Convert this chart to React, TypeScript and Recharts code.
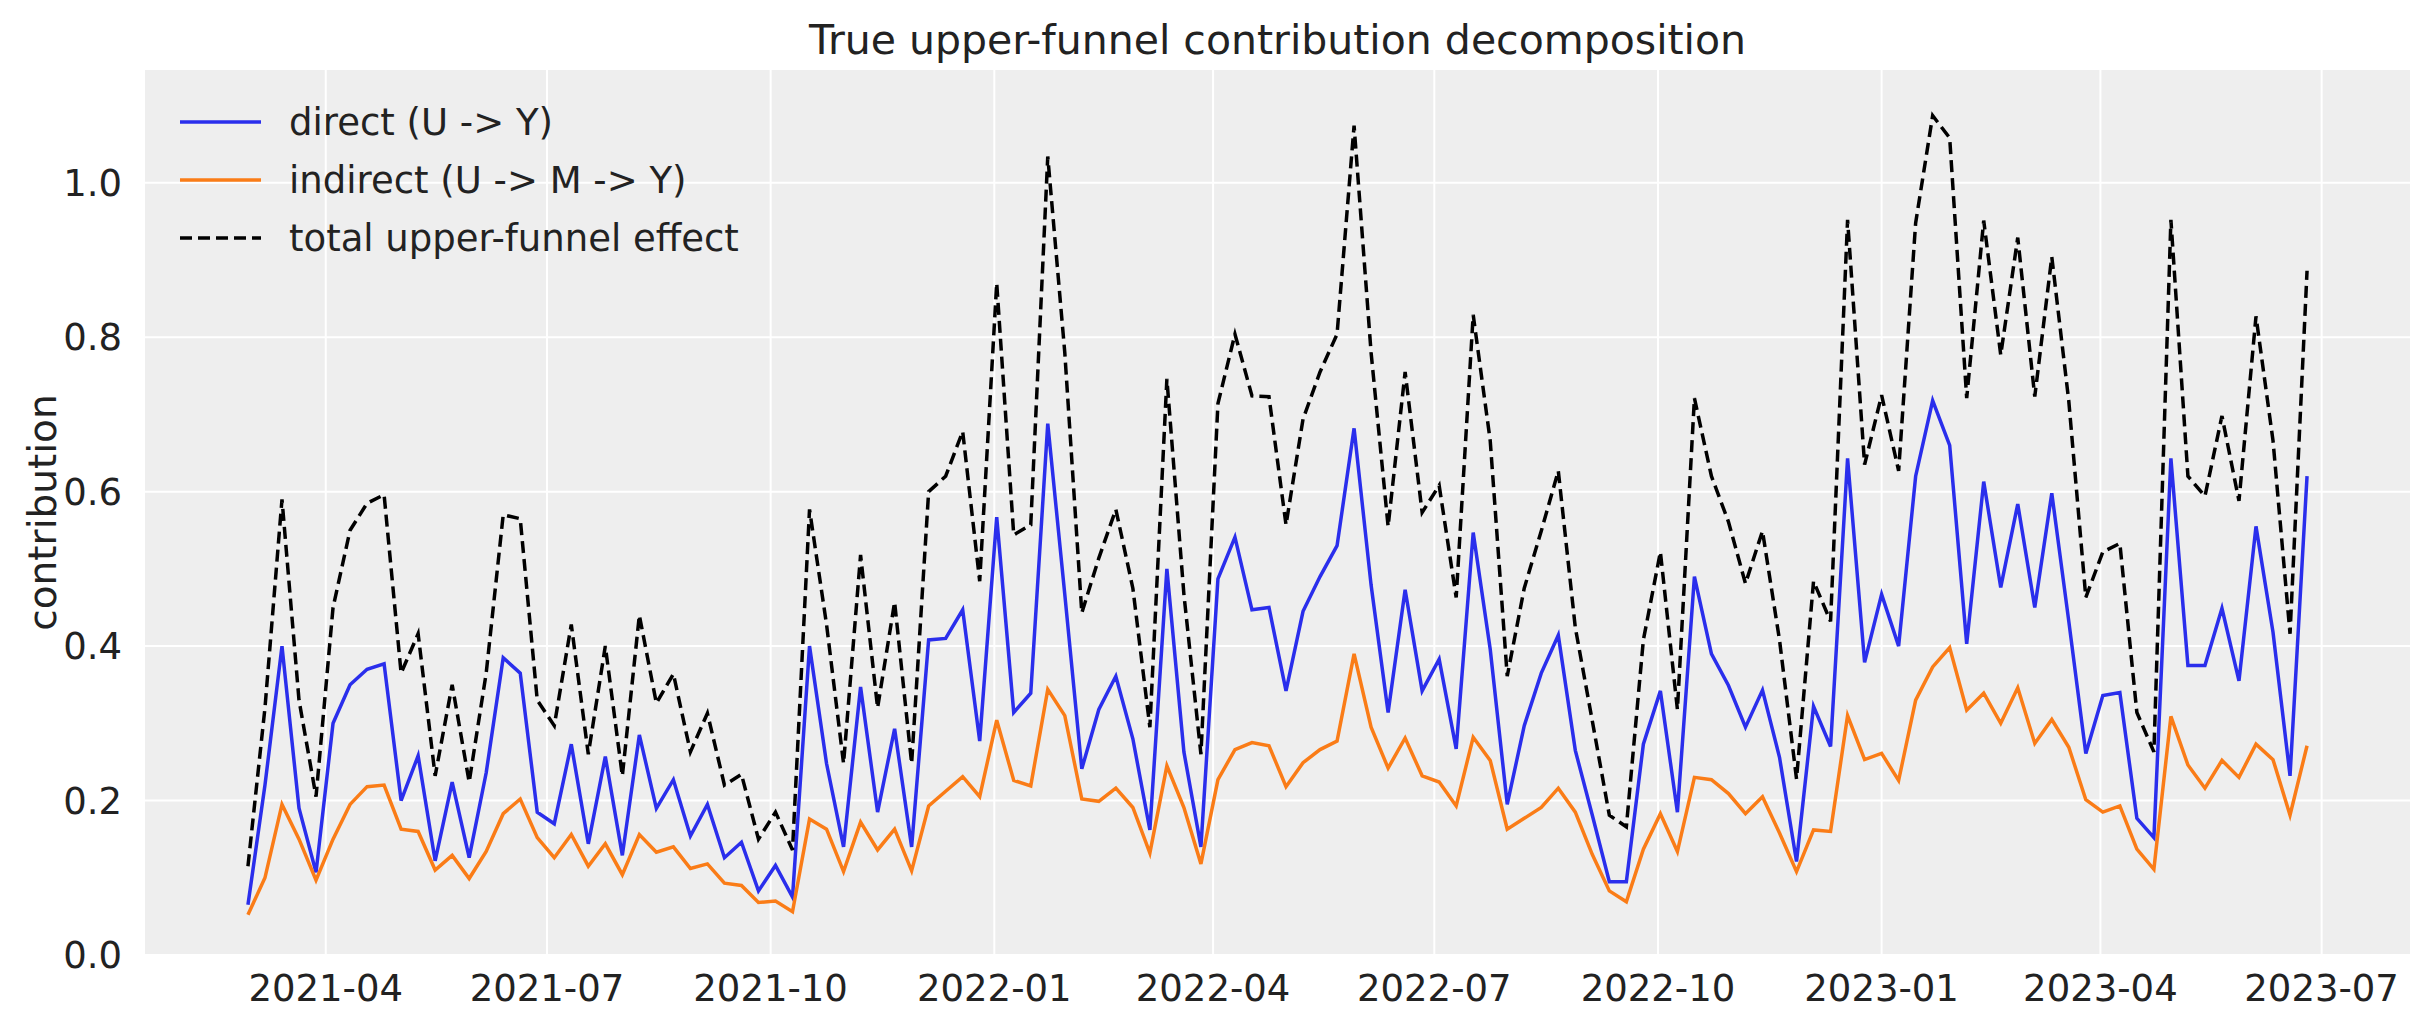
import React from 'react';
import { LineChart, Line, XAxis, YAxis, CartesianGrid } from 'recharts';

const START = Date.UTC(2021, 1, 28);
const WEEK = 7 * 86400000;

const directValues = [
  0.065, 0.22, 0.40, 0.19, 0.107, 0.30, 0.35, 0.37, 0.377, 0.20,
  0.258, 0.122, 0.224, 0.126, 0.236, 0.385, 0.365, 0.185, 0.17, 0.273,
  0.144, 0.257, 0.129, 0.285, 0.19, 0.227, 0.154, 0.195, 0.126, 0.146,
  0.083, 0.116, 0.075, 0.40, 0.248, 0.14, 0.347, 0.185, 0.293, 0.14,
  0.408, 0.41, 0.447, 0.277, 0.567, 0.314, 0.339, 0.688, 0.467, 0.241,
  0.318, 0.361, 0.28, 0.162, 0.50, 0.263, 0.14, 0.487, 0.541, 0.447,
  0.45, 0.342, 0.445, 0.49, 0.53, 0.682, 0.479, 0.314, 0.473, 0.342,
  0.383, 0.267, 0.547, 0.396, 0.195, 0.297, 0.365, 0.414, 0.265, 0.181,
  0.095, 0.095, 0.273, 0.342, 0.185, 0.49, 0.39, 0.349, 0.295, 0.343,
  0.256, 0.121, 0.322, 0.27, 0.643, 0.379, 0.467, 0.40, 0.62, 0.718,
  0.66, 0.403, 0.613, 0.476, 0.584, 0.45, 0.598, 0.432, 0.261, 0.336,
  0.34, 0.177, 0.152, 0.643, 0.375, 0.375, 0.449, 0.355, 0.555, 0.418,
  0.232, 0.62,
];

const indirectValues = [
  0.052, 0.10, 0.195, 0.15, 0.097, 0.15, 0.195, 0.218, 0.22, 0.163,
  0.16, 0.11, 0.129, 0.099, 0.134, 0.183, 0.202, 0.152, 0.126, 0.156,
  0.115, 0.144, 0.104, 0.156, 0.133, 0.14, 0.112, 0.118, 0.093, 0.09,
  0.068, 0.07, 0.056, 0.176, 0.163, 0.108, 0.172, 0.136, 0.163, 0.109,
  0.193, 0.212, 0.231, 0.205, 0.304, 0.226, 0.219, 0.344, 0.31, 0.202,
  0.199, 0.216, 0.191, 0.132, 0.245, 0.191, 0.118, 0.227, 0.266, 0.275,
  0.271, 0.218, 0.249, 0.266, 0.277, 0.39, 0.295, 0.242, 0.281, 0.232,
  0.224, 0.193, 0.282, 0.252, 0.163, 0.177, 0.191, 0.216, 0.185, 0.13,
  0.083, 0.069, 0.137, 0.183, 0.134, 0.23, 0.227, 0.209, 0.183, 0.205,
  0.158, 0.108, 0.162, 0.16, 0.31, 0.253, 0.261, 0.226, 0.33, 0.373,
  0.398, 0.317, 0.339, 0.30, 0.346, 0.274, 0.305, 0.269, 0.201, 0.185,
  0.193, 0.137, 0.111, 0.309, 0.246, 0.216, 0.252, 0.23, 0.273, 0.253,
  0.181, 0.271,
];

const totalValues = [
  0.115, 0.32, 0.59, 0.33, 0.205, 0.45, 0.55, 0.585, 0.596, 0.365,
  0.416, 0.232, 0.35, 0.224, 0.365, 0.57, 0.565, 0.33, 0.297, 0.428,
  0.26, 0.40, 0.232, 0.44, 0.326, 0.364, 0.263, 0.313, 0.22, 0.234,
  0.15, 0.185, 0.136, 0.577, 0.428, 0.248, 0.518, 0.32, 0.457, 0.248,
  0.60, 0.62, 0.678, 0.484, 0.87, 0.544, 0.557, 1.034, 0.78, 0.443,
  0.514, 0.577, 0.475, 0.295, 0.746, 0.467, 0.26, 0.714, 0.804, 0.724,
  0.723, 0.557, 0.694, 0.755, 0.804, 1.074, 0.78, 0.555, 0.755, 0.573,
  0.608, 0.463, 0.829, 0.666, 0.361, 0.475, 0.549, 0.627, 0.424, 0.303,
  0.181, 0.166, 0.408, 0.522, 0.318, 0.721, 0.62, 0.561, 0.481, 0.549,
  0.408, 0.228, 0.484, 0.432, 0.952, 0.635, 0.725, 0.627, 0.948, 1.087,
  1.058, 0.721, 0.951, 0.777, 0.929, 0.723, 0.904, 0.717, 0.463, 0.522,
  0.533, 0.314, 0.263, 0.952, 0.62, 0.594, 0.698, 0.588, 0.827, 0.666,
  0.416, 0.886,
];

const xTickLabels = ['2021-04', '2021-07', '2021-10', '2022-01', '2022-04', '2022-07', '2022-10', '2023-01', '2023-04', '2023-07'];
const yTicks = [0, 0.2, 0.4, 0.6, 0.8, 1.0];

const data = directValues.map((d, i) => ({
  t: START + i * WEEK,
  direct: d,
  indirect: indirectValues[i],
  total: totalValues[i],
}));

const xTicks = xTickLabels.map((s) => {
  const [y, m] = s.split('-').map(Number);
  return Date.UTC(y, m - 1, 1);
});
const span = data[data.length - 1].t - data[0].t;
const xDomain = [data[0].t - span * 0.05, data[data.length - 1].t + span * 0.05];

const fmt = (v: number) => {
  const d = new Date(v);
  return `${d.getUTCFullYear()}-${String(d.getUTCMonth() + 1).padStart(2, '0')}`;
};

const FONT = 'DejaVu Sans, sans-serif';
const BLUE = '#2a2eec';
const ORANGE = '#fa7c17';

const legendItems = [
  { label: 'direct (U -> Y)', color: BLUE, dash: false },
  { label: 'indirect (U -> M -> Y)', color: ORANGE, dash: false },
  { label: 'total upper-funnel effect', color: '#000', dash: true },
];

export default function App() {
  return (
    <div style={{ position: 'absolute', left: 0, top: 0, width: 2423, height: 1023, background: '#fff', fontFamily: FONT }}>
      <div style={{ position: 'absolute', top: 16, left: 145, width: 2265, textAlign: 'center', fontSize: 41, color: '#222' }}>
        True upper-funnel contribution decomposition
      </div>
      <LineChart width={2423} height={1023} data={data} margin={{ top: 70, right: 13, bottom: 38, left: 65 }}>
        <CartesianGrid fill="#eeeeee" stroke="#ffffff" strokeWidth={2} verticalValues={xTicks} horizontalValues={yTicks} />
        <XAxis
          dataKey="t"
          type="number"
          scale="time"
          domain={xDomain}
          ticks={xTicks}
          tickFormatter={fmt}
          axisLine={false}
          tickLine={false}
          tickMargin={14}
          height={30}
          tick={{ fontSize: 37, fill: '#222', fontFamily: FONT }}
          allowDataOverflow
        />
        <YAxis
          type="number"
          domain={[0, 1.146]}
          ticks={yTicks}
          tickFormatter={(v: number) => v.toFixed(1)}
          axisLine={false}
          tickLine={false}
          tickMargin={17}
          width={80}
          tick={{ fontSize: 37, fill: '#222', fontFamily: FONT }}
          label={{ value: 'contribution', angle: -90, position: 'insideLeft', dx: -28, dy: 0, style: { fontSize: 39, fill: '#222', fontFamily: FONT, textAnchor: 'middle' } }}
          allowDataOverflow
        />
        <Line dataKey="direct" stroke={BLUE} strokeWidth={3.5} dot={false} isAnimationActive={false} />
        <Line dataKey="indirect" stroke={ORANGE} strokeWidth={3.5} dot={false} isAnimationActive={false} />
        <Line dataKey="total" stroke="#000" strokeWidth={3.5} strokeDasharray="12 6" dot={false} isAnimationActive={false} />
      </LineChart>
      <div style={{ position: 'absolute', left: 178, top: 93 }}>
        {legendItems.map((it) => (
          <div key={it.label} style={{ display: 'flex', alignItems: 'center', height: 58 }}>
            <svg width={85} height={10} style={{ marginRight: 26 }}>
              <line x1={2} y1={5} x2={83} y2={5} stroke={it.color} strokeWidth={3.5} strokeDasharray={it.dash ? '12 6' : undefined} />
            </svg>
            <span style={{ fontSize: 37, color: '#222' }}>{it.label}</span>
          </div>
        ))}
      </div>
    </div>
  );
}
